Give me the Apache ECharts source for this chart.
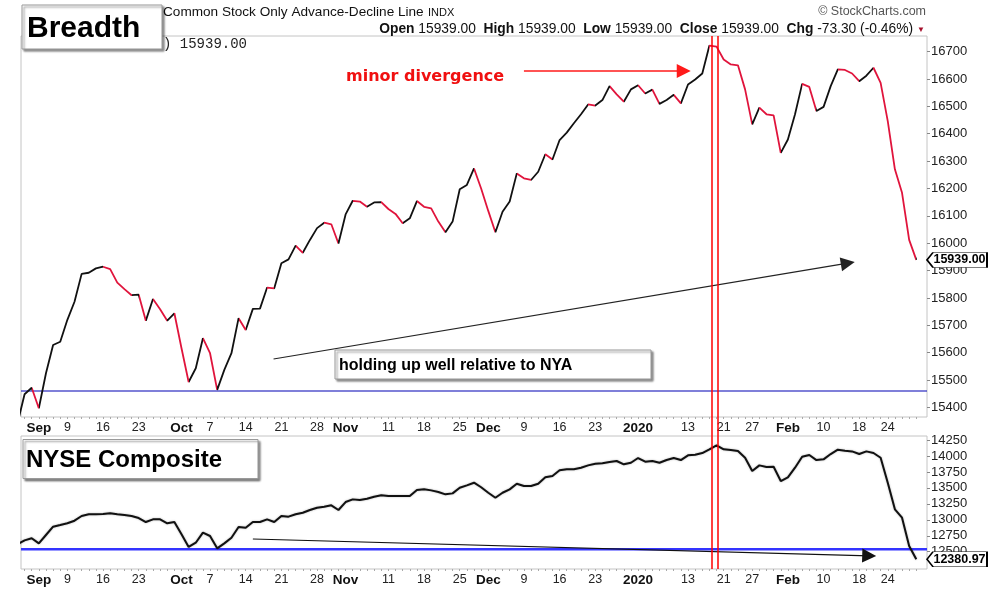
<!DOCTYPE html>
<html><head><meta charset="utf-8">
<script src="https://cdn.jsdelivr.net/npm/echarts@6/dist/echarts.min.js"></script>
<style>html,body{margin:0;padding:0;background:#fff}#c{width:989px;height:589px}</style>
</head><body><div id="c"></div>
<script>
const dates = [
'2019-08-28','2019-08-29','2019-08-30',
'2019-09-03','2019-09-04','2019-09-05','2019-09-06','2019-09-09','2019-09-10','2019-09-11','2019-09-12','2019-09-13','2019-09-16','2019-09-17','2019-09-18','2019-09-19','2019-09-20','2019-09-23','2019-09-24','2019-09-25','2019-09-26','2019-09-27','2019-09-30',
'2019-10-01','2019-10-02','2019-10-03','2019-10-04','2019-10-07','2019-10-08','2019-10-09','2019-10-10','2019-10-11','2019-10-14','2019-10-15','2019-10-16','2019-10-17','2019-10-18','2019-10-21','2019-10-22','2019-10-23','2019-10-24','2019-10-25','2019-10-28','2019-10-29','2019-10-30','2019-10-31',
'2019-11-01','2019-11-04','2019-11-05','2019-11-06','2019-11-07','2019-11-08','2019-11-11','2019-11-12','2019-11-13','2019-11-14','2019-11-15','2019-11-18','2019-11-19','2019-11-20','2019-11-21','2019-11-22','2019-11-25','2019-11-26','2019-11-27','2019-11-29',
'2019-12-02','2019-12-03','2019-12-04','2019-12-05','2019-12-06','2019-12-09','2019-12-10','2019-12-11','2019-12-12','2019-12-13','2019-12-16','2019-12-17','2019-12-18','2019-12-19','2019-12-20','2019-12-23','2019-12-24','2019-12-26','2019-12-27','2019-12-30','2019-12-31',
'2020-01-02','2020-01-03','2020-01-06','2020-01-07','2020-01-08','2020-01-09','2020-01-10','2020-01-13','2020-01-14','2020-01-15','2020-01-16','2020-01-17','2020-01-21','2020-01-22','2020-01-23','2020-01-24','2020-01-27','2020-01-28','2020-01-29','2020-01-30','2020-01-31',
'2020-02-03','2020-02-04','2020-02-05','2020-02-06','2020-02-07','2020-02-10','2020-02-11','2020-02-12','2020-02-13','2020-02-14','2020-02-18','2020-02-19','2020-02-20','2020-02-21','2020-02-24','2020-02-25','2020-02-26','2020-02-27','2020-02-28'
];
// NYSE Common Stock Only Advance-Decline Line
const adLine = [
15340,15448,15472,15397,15525,15628,15640,15720,15786,15888,15892,15908,15914,15905,15856,15832,15810,15812,15717,15796,15759,15717,15744,
15616,15493,15543,15653,15598,15464,15537,15598,15726,15683,15760,15761,15838,15835,15927,15941,15991,15965,16012,16055,16075,16069,15999,
16105,16155,16152,16133,16149,16150,16125,16107,16073,16091,16154,16133,16127,16079,16040,16079,16197,16213,16273,16200,
16118,16040,16115,16152,16255,16237,16231,16261,16325,16306,16377,16404,16438,16471,16507,16503,16523,16574,16544,16517,16562,
16577,16547,16561,16509,16523,16542,16511,16580,16598,16620,16722,16718,16671,16653,16650,16562,16434,16495,16471,16467,16330,
16379,16471,16582,16571,16483,16498,16574,16635,16633,16620,16592,16612,16641,16586,16446,16270,16184,16012,15939
];
// NYSE Composite
const nyse = [
12616,12678,12710,12631,12762,12892,12918,12945,12986,13059,13086,13086,13090,13102,13086,13075,13059,13028,12965,13007,13007,12945,12965,
12772,12574,12641,12798,12746,12553,12631,12719,12887,12876,12965,12965,13007,12965,13059,13049,13086,13111,13153,13189,13205,13227,13153,
13278,13320,13310,13330,13362,13383,13372,13372,13372,13372,13466,13477,13461,13435,13399,13414,13502,13540,13581,13510,
13424,13346,13424,13477,13565,13529,13529,13565,13665,13686,13775,13791,13791,13816,13853,13878,13885,13905,13921,13869,13894,
13968,13910,13921,13894,13936,13968,13936,14010,14020,14046,14104,14167,14104,14093,14077,13972,13764,13853,13827,13832,13607,
13665,13816,13988,14015,13936,13947,14030,14098,14082,14072,14030,14072,14046,13972,13581,13164,13033,12589,12380.97
];
const tickDates = ['2019-09-03','2019-09-09','2019-09-16','2019-09-23','2019-10-01','2019-10-07','2019-10-14','2019-10-21','2019-10-28','2019-11-01','2019-11-11','2019-11-18','2019-11-25','2019-12-02','2019-12-09','2019-12-16','2019-12-23','2020-01-02','2020-01-13','2020-01-21','2020-01-27','2020-02-03','2020-02-10','2020-02-18','2020-02-24'];
const tickLabels = ['Sep','9','16','23','Oct','7','14','21','28','Nov','11','18','25','Dec','9','16','23','2020','13','21','27','Feb','10','18','24'];
const adTicks = [15400,15500,15600,15700,15800,15900,16000,16100,16200,16300,16400,16500,16600,16700];
const nyTicks = [12500,12750,13000,13250,13500,13750,14000,14250];
const adSupport = 15460;
const nySupport = 12537;
const divergenceMarks = [97.3, 98.1];           // red vertical markers (trading-day position)
const adArrow = [[35.9, 15577], [116.4, 15927]];   // "holding up well" arrow
const redArrow = [[71.0, 16629], [93.4, 16629]];   // "minor divergence" arrow
const nyArrow = [[33.0, 12699], [119.4, 12436]];

const xMin = 0.5, xMax = 127.5;
const tickIdx = tickDates.map(d => dates.indexOf(d));
const labelByIdx = {};
tickIdx.forEach((t, k) => { labelByIdx[t] = tickLabels[k]; });
const allIdx = dates.map((d, i) => i);
const FONT = '"Liberation Sans", Arial, sans-serif';
const RED = '#e0143c';

const pieces = [];
for (let i = 1; i < adLine.length; i++) {
  if (adLine[i] < adLine[i - 1]) pieces.push({ gt: i - 1, lte: i, color: RED });
}

function xAxisCfg(gi) {
  return {
    type: 'value', gridIndex: gi, min: xMin, max: xMax,
    axisLine: { show: false }, splitLine: { show: false },
    axisTick: { show: true, customValues: allIdx, length: 2, lineStyle: { color: '#aaa' } },
    axisLabel: {
      customValues: tickIdx, margin: 4, fontSize: 12.5, color: '#222', fontFamily: FONT,
      formatter: v => {
        const s = labelByIdx[Math.round(v)];
        if (!s) return '';
        return (/^\d{1,2}$/.test(s)) ? s : '{b|' + s + '}';
      },
      rich: { b: { fontWeight: 'bold', fontSize: 13.5, color: '#111', fontFamily: FONT } }
    }
  };
}
function yAxisCfg(gi, min, max, ticks) {
  return {
    type: 'value', gridIndex: gi, position: 'right', min: min, max: max,
    axisLine: { show: false }, splitLine: { show: false },
    axisTick: { show: true, customValues: ticks, length: 3, lineStyle: { color: '#888' } },
    axisLabel: { customValues: ticks, margin: 4, fontSize: 13, color: '#222', fontFamily: FONT,
      formatter: v => String(Math.round(v)) }
  };
}
function tag(x, v, txt) {
  return {
    silent: true, animation: false,
    symbol: 'path://M0,6 L6,0 L60,0 L60,12 L6,12 Z', symbolSize: [60, 15], symbolOffset: [30, 0],
    itemStyle: { color: '#fff', borderColor: '#000', borderWidth: 1 },
    label: { show: true, position: 'inside', formatter: txt, color: '#000', fontWeight: 'bold', fontSize: 12.5, fontFamily: FONT, padding: [0, 0, 0, 5] },
    data: [{ coord: [x, v] }]
  };
}
function hLine(xi, yi, v, color, width) {
  return {
    type: 'line', xAxisIndex: xi, yAxisIndex: yi, showSymbol: false, symbol: 'none', silent: true, z: 2,
    data: [[xMin, v], [xMax, v]], color: color,
    itemStyle: { color: color }, lineStyle: { color: color, width: width }
  };
}

const chart = echarts.init(document.getElementById('c'), null, { renderer: 'canvas' });
chart.setOption({
  animation: false,
  backgroundColor: '#fff',
  grid: [
    { left: 21, top: 36, width: 906, height: 381, show: true, borderColor: '#c4c4c4', borderWidth: 1, backgroundColor: 'transparent' },
    { left: 21, top: 436, width: 906, height: 133, show: true, borderColor: '#c4c4c4', borderWidth: 1, backgroundColor: 'transparent' },
    { left: 21, top: 36, width: 906, height: 533, show: false }
  ],
  xAxis: [xAxisCfg(0), xAxisCfg(1),
    { type: 'value', gridIndex: 2, min: xMin, max: xMax, show: false }],
  yAxis: [yAxisCfg(0, 15365, 16757, adTicks), yAxisCfg(1, 12229, 14313, nyTicks),
    { type: 'value', gridIndex: 2, min: 0, max: 1, show: false }],
  visualMap: [{ type: 'piecewise', show: false, seriesIndex: [0], dimension: 0, pieces: pieces, outOfRange: { color: '#111' } }],
  series: [
    {
      type: 'line', xAxisIndex: 0, yAxisIndex: 0, showSymbol: false, symbol: 'none',
      data: adLine.map((v, i) => [i, v]), lineStyle: { width: 1.8 }, z: 3,
      markLine: {
        silent: true, symbol: 'none', animation: false, label: { show: false },
        data: [
          [{ coord: adArrow[0], symbol: 'none', lineStyle: { color: '#222', width: 1.2, type: 'solid' } },
           { coord: adArrow[1], symbol: 'triangle', symbolSize: 14 }],
          [{ coord: redArrow[0], symbol: 'none', lineStyle: { color: '#ff1a1a', width: 1.5, type: 'solid' } },
           { coord: redArrow[1], symbol: 'triangle', symbolSize: 14 }]
        ]
      },
      markPoint: tag(xMax, adLine[adLine.length - 1], adLine[adLine.length - 1].toFixed(2))
    },
    {
      type: 'line', xAxisIndex: 1, yAxisIndex: 1, showSymbol: false, symbol: 'none',
      data: nyse.map((v, i) => [i, v]),
      lineStyle: { width: 2, color: '#111', shadowColor: 'rgba(0,0,0,0.3)', shadowBlur: 2 }, z: 3,
      markLine: {
        silent: true, symbol: 'none', animation: false, label: { show: false },
        data: [
          [{ coord: nyArrow[0], symbol: 'none', lineStyle: { color: '#111', width: 1.2, type: 'solid' } },
           { coord: nyArrow[1], symbol: 'triangle', symbolSize: 14 }]
        ]
      },
      markPoint: tag(xMax, nyse[nyse.length - 1], nyse[nyse.length - 1].toFixed(2))
    },
    {
      type: 'line', xAxisIndex: 2, yAxisIndex: 2, data: [], z: 5,
      markLine: {
        silent: true, symbol: 'none', animation: false, label: { show: false },
        lineStyle: { color: '#ff0000', width: 1.5, type: 'solid' },
        data: divergenceMarks.map(x => ({ xAxis: x }))
      }
    },
    hLine(0, 0, adSupport, '#0000b4', 1.2),
    hLine(1, 1, nySupport, '#3434ff', 2.5)
  ],
  graphic: [
    { type: 'text', left: 163, top: 5, z: 10, style: { text: 'Common Stock Only Advance-Decline Line', fontSize: 13.6, fontFamily: FONT, fill: '#111' } },
    { type: 'text', left: 428, top: 7, z: 10, style: { text: 'INDX', fontSize: 11, fontFamily: FONT, fill: '#111' } },
    { type: 'text', left: 163, top: 37, z: 10, style: { text: ') 15939.00', fontSize: 14, fontFamily: '"Liberation Mono", monospace', fill: '#222' } },
    { type: 'text', right: 989 - 913, top: 22, z: 10, style: {
        text: '{b|Open} 15939.00  {b|High} 15939.00  {b|Low} 15939.00  {b|Close} 15939.00  {b|Chg} -73.30 (-0.46%)',
        fontSize: 13.8, fontFamily: FONT, fill: '#111',
        rich: { b: { fontWeight: 'bold', fontSize: 13.8, fontFamily: FONT, fill: '#111' } } } },
    { type: 'text', left: 917, top: 26, z: 10, style: { text: '▼', fontSize: 8, fill: '#a5102c' } },
    { type: 'text', right: 989 - 926, top: 5, z: 10, style: { text: '© StockCharts.com', fontSize: 12.5, fontFamily: FONT, fill: '#555' } },
    { type: 'rect', z: 20, shape: { x: 22, y: 5, width: 140, height: 44 },
      style: { fill: '#fff', stroke: '#999', lineWidth: 1, shadowColor: 'rgba(0,0,0,0.45)', shadowOffsetX: 2, shadowOffsetY: 2, shadowBlur: 2 } },
    { type: 'text', z: 21, left: 27, top: 14, style: { text: 'Breadth', fontSize: 30, fontWeight: 'bold', fontFamily: FONT, fill: '#000' } },
    { type: 'rect', z: 20, shape: { x: 23, y: 439.5, width: 235, height: 39 },
      style: { fill: '#fff', stroke: '#999', lineWidth: 1, shadowColor: 'rgba(0,0,0,0.45)', shadowOffsetX: 2, shadowOffsetY: 2, shadowBlur: 2 } },
    { type: 'text', z: 21, left: 26, top: 448, style: { text: 'NYSE Composite', fontSize: 24, fontWeight: 'bold', fontFamily: FONT, fill: '#000' } },
    { type: 'rect', z: 20, shape: { x: 335, y: 350, width: 316, height: 29 },
      style: { fill: '#fff', stroke: '#999', lineWidth: 1, shadowColor: 'rgba(0,0,0,0.45)', shadowOffsetX: 2, shadowOffsetY: 2, shadowBlur: 2 } },
    { type: 'text', z: 21, left: 339, top: 358, style: { text: 'holding up well relative to NYA', fontSize: 16, fontWeight: 'bold', fontFamily: FONT, fill: '#000' } },
    { type: 'text', z: 21, left: 346, top: 69, style: { text: 'minor divergence', fontSize: 16, fontWeight: 'bold', fontFamily: '"DejaVu Sans", Verdana, sans-serif', fill: '#f01010' } }
  ]
});
</script></body></html>
